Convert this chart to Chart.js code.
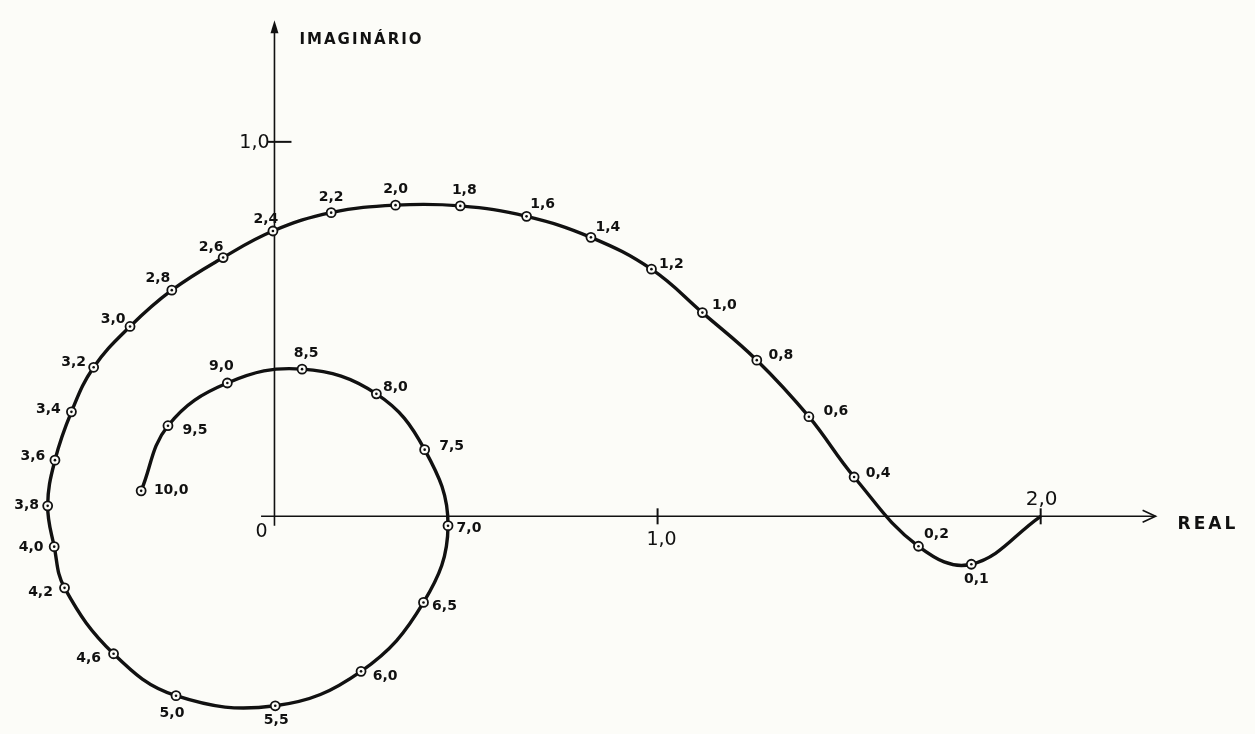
<!DOCTYPE html>
<html>
<head>
<meta charset="utf-8">
<script src="https://cdn.jsdelivr.net/npm/chart.js@4.4.1/dist/chart.umd.min.js"></script>
<style>
  html, body { margin: 0; padding: 0; background: #fcfcf8; }
  canvas { display: block; }
</style>
</head>
<body>
<canvas id="nyquist" width="1255" height="734"></canvas>
<script>
// frequencias marcadas ao longo da curva (0 = ponto de partida sobre o eixo real)
var frequencias = [0, 0.1, 0.2, 0.4, 0.6, 0.8, 1.0, 1.2, 1.4, 1.6, 1.8, 2.0, 2.2, 2.4, 2.6, 2.8, 3.0, 3.2, 3.4, 3.6, 3.8, 4.0, 4.2, 4.6, 5.0, 5.5, 6.0, 6.5, 7.0, 7.5, 8.0, 8.5, 9.0, 9.5, 10.0];
var parteReal = [2.0, 1.819, 1.681, 1.513, 1.395, 1.259, 1.117, 0.984, 0.826, 0.658, 0.485, 0.316, 0.148, -0.004, -0.134, -0.268, -0.377, -0.472, -0.530, -0.573, -0.592, -0.575, -0.548, -0.420, -0.257, 0.002, 0.226, 0.389, 0.453, 0.392, 0.266, 0.072, -0.123, -0.278, -0.348];
var parteImag = [0, -0.128, -0.080, 0.105, 0.266, 0.417, 0.544, 0.660, 0.745, 0.801, 0.829, 0.831, 0.811, 0.762, 0.691, 0.604, 0.507, 0.398, 0.279, 0.150, 0.028, -0.081, -0.191, -0.367, -0.479, -0.506, -0.414, -0.230, -0.025, 0.178, 0.327, 0.393, 0.356, 0.242, 0.068];
var ticksReal = [1.0, 2.0];
var ticksImag = [1.0];

// deslocamento (px) de cada rotulo em relacao ao seu ponto
var offsetRotulos = [null, [5, 15], [18, -12], [24, -4], [27, -5], [24, -5], [22, -7], [20, -5], [17, -10], [16, -12], [4, -16], [0, -16], [0, -15], [-7, -12], [-12, -10], [-14, -12], [-17, -7], [-20, -5], [-23, -2], [-22, -4], [-21, 0], [-23, 1], [-24, 5], [-25, 5], [-4, 18], [1, 15], [24, 5], [21, 4], [21, 3], [27, -3], [19, -7], [4, -16], [-6, -17], [27, 5], [30, 0]];

var pontos = parteReal.map(function (x, i) { return { x: x, y: parteImag[i] }; });
var raios = frequencias.map(function (f) { return f === 0 ? 0 : 4.5; });

function virgula(v) { return v.toFixed(1).replace('.', ','); }

var eixos = {
    id: 'eixos',
    beforeDatasetsDraw: function (chart) {
        var ctx = chart.ctx, sx = chart.scales.x, sy = chart.scales.y;
        var x0 = sx.getPixelForValue(0), y0 = sy.getPixelForValue(0);
        var xFim = sx.getPixelForValue(2.30), yTopo = sy.getPixelForValue(1.325);
        ctx.save();
        ctx.strokeStyle = '#111';
        ctx.fillStyle = '#111';
        ctx.lineWidth = 1.6;
        // eixo real
        ctx.beginPath();
        ctx.moveTo(sx.getPixelForValue(-0.035), y0);
        ctx.lineTo(xFim, y0);
        ctx.stroke();
        ctx.beginPath();
        ctx.moveTo(xFim - 13, y0 - 6);
        ctx.lineTo(xFim, y0);
        ctx.lineTo(xFim - 13, y0 + 6);
        ctx.stroke();
        // eixo imaginario
        ctx.beginPath();
        ctx.moveTo(x0, sy.getPixelForValue(-0.025));
        ctx.lineTo(x0, yTopo + 8);
        ctx.stroke();
        ctx.beginPath();
        ctx.moveTo(x0, yTopo);
        ctx.lineTo(x0 - 4, yTopo + 13);
        ctx.lineTo(x0 + 4, yTopo + 13);
        ctx.closePath();
        ctx.fill();
        // marcas
        ctx.lineWidth = 2;
        ticksReal.forEach(function (v) {
            var px = sx.getPixelForValue(v);
            ctx.beginPath();
            ctx.moveTo(px, y0 - 8);
            ctx.lineTo(px, y0 + 8);
            ctx.stroke();
        });
        ticksImag.forEach(function (v) {
            var py = sy.getPixelForValue(v);
            ctx.beginPath();
            ctx.moveTo(x0 - 7, py);
            ctx.lineTo(x0 + 17, py);
            ctx.stroke();
        });
        // textos dos eixos
        ctx.font = '19px "DejaVu Sans"';
        ctx.textAlign = 'center';
        ctx.textBaseline = 'middle';
        ctx.fillText('0', x0 - 13, y0 + 16);
        ctx.fillText(virgula(ticksReal[0]), sx.getPixelForValue(ticksReal[0]) + 4, y0 + 24);
        ctx.fillText(virgula(ticksImag[0]), x0 - 20, sy.getPixelForValue(ticksImag[0]) + 1);
        ctx.font = '20px "DejaVu Sans"';
        ctx.fillText(virgula(ticksReal[1]), sx.getPixelForValue(ticksReal[1]) + 1, y0 - 17);
        ctx.font = 'bold 15px "DejaVu Sans"';
        ctx.textAlign = 'left';
        ctx.letterSpacing = '2px';
        ctx.fillText('IMAGINÁRIO', x0 + 25, yTopo + 20);
        ctx.font = 'bold 17px "DejaVu Sans"';
        ctx.letterSpacing = '3px';
        ctx.fillText('REAL', xFim + 22, y0 + 8);
        ctx.restore();
    },
    afterDatasetsDraw: function (chart) {
        var ctx = chart.ctx, meta = chart.getDatasetMeta(0);
        ctx.save();
        ctx.fillStyle = '#111';
        ctx.font = 'bold 14px "DejaVu Sans"';
        ctx.textAlign = 'center';
        ctx.textBaseline = 'middle';
        meta.data.forEach(function (p, i) {
            if (!offsetRotulos[i]) return;
            ctx.beginPath();
            ctx.arc(p.x, p.y, 1.3, 0, Math.PI * 2);
            ctx.fill();
            ctx.fillText(virgula(frequencias[i]), p.x + offsetRotulos[i][0], p.y + offsetRotulos[i][1]);
        });
        ctx.restore();
    }
};

var grafico = document.getElementById("nyquist");
var nyquist = new Chart(grafico, {
    type: 'scatter',
    data: {
        datasets: [{
            data: pontos,
            showLine: true,
            tension: 0.4,
            borderColor: '#111',
            borderWidth: 3.4,
            pointRadius: raios,
            pointBackgroundColor: '#fcfcf8',
            pointBorderColor: '#111',
            pointBorderWidth: 1.8,
            clip: false
        }]
    },
    options: {
        responsive: false,
        animation: false,
        devicePixelRatio: 1,
        layout: { padding: 0 },
        plugins: { legend: { display: false }, tooltip: { enabled: false } },
        scales: {
            x: { type: 'linear', display: false, min: -0.70, max: 2.543 },
            y: { type: 'linear', display: false, min: -0.5645, max: 1.362 }
        }
    },
    plugins: [eixos]
});
</script>
</body>
</html>
